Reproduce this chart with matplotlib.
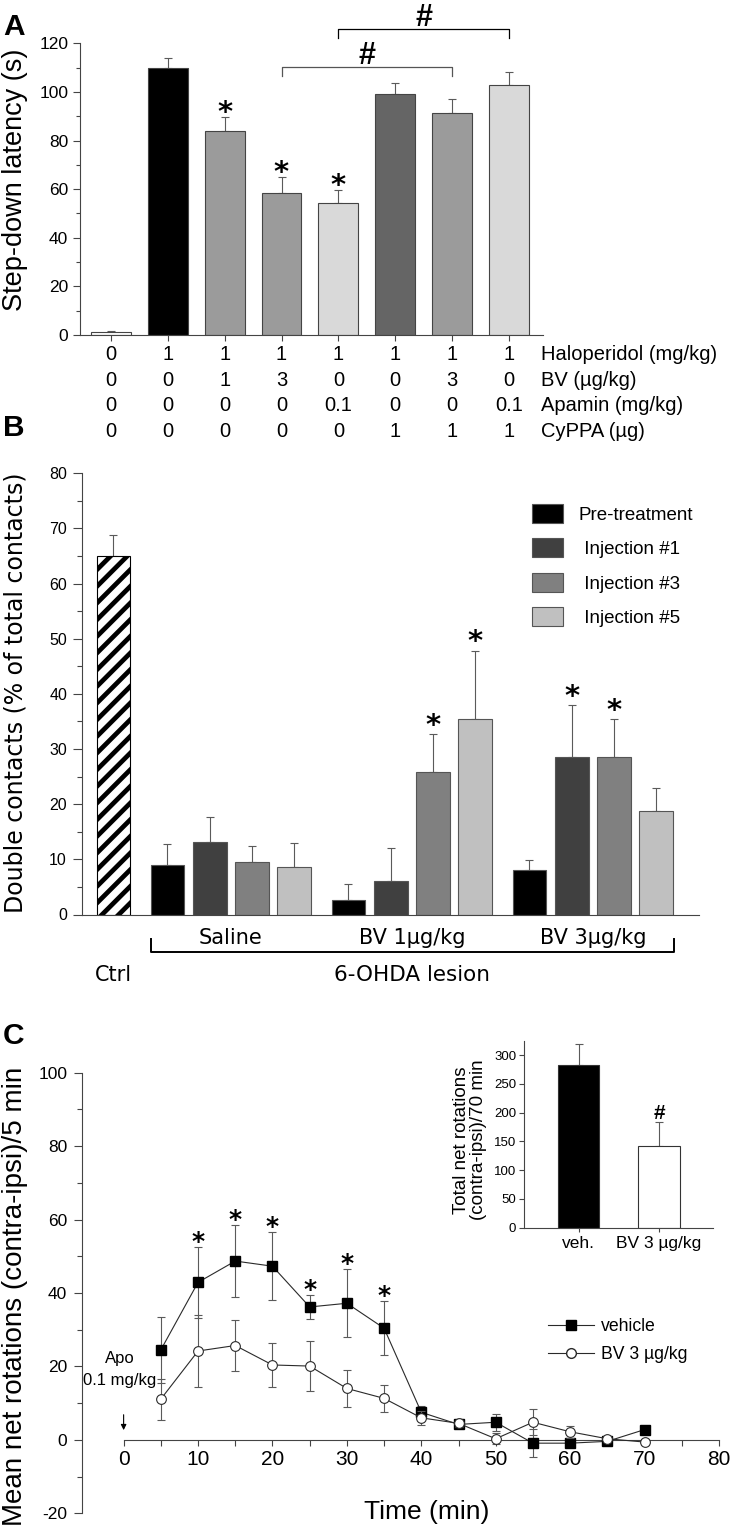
import numpy as np
import matplotlib
matplotlib.use("Agg")
import matplotlib.pyplot as plt
from matplotlib import transforms
from matplotlib.lines import Line2D

# ---------------- data ----------------
# Panel A: step-down latency
a_means = [1.1, 110.0, 84.0, 58.3, 54.3, 99.0, 91.2, 103.0]
a_errs = [0.5, 4.0, 5.8, 6.8, 5.3, 4.5, 5.8, 5.3]
a_colors = ["white", "black", "#9b9b9b", "#9b9b9b", "#d9d9d9", "#656565", "#9b9b9b", "#d9d9d9"]
a_row_names = ["Haloperidol (mg/kg)", "BV (µg/kg)", "Apamin (mg/kg)", "CyPPA (µg)"]
a_haloperidol = ["0", "1", "1", "1", "1", "1", "1", "1"]
a_bv = ["0", "0", "1", "3", "0", "0", "3", "0"]
a_apamin = ["0", "0", "0", "0", "0.1", "0", "0", "0.1"]
a_cyppa = ["0", "0", "0", "0", "0", "1", "1", "1"]
a_star_bars = [2, 3, 4]
a_hash_pairs = [(3, 6), (4, 7)]

# Panel B: double contacts
b_ctrl_mean = 65.0
b_ctrl_err = 3.8
b_groups = ["Saline", "BV 1µg/kg", "BV 3µg/kg"]
b_series = ["Pre-treatment", " Injection #1", " Injection #3", " Injection #5"]
b_colors = ["black", "#404040", "#808080", "#c0c0c0"]
b_saline = [9.0, 13.2, 9.5, 8.7]
b_saline_err = [3.7, 4.4, 2.9, 4.2]
b_bv1 = [2.7, 6.1, 25.9, 35.4]
b_bv1_err = [2.9, 6.0, 6.8, 12.4]
b_bv3 = [8.1, 28.6, 28.6, 18.7]
b_bv3_err = [1.7, 9.3, 6.8, 4.2]
b_stars = [(1, 2), (1, 3), (2, 1), (2, 2)]  # (group, series)

# Panel C: rotations time course
c_time = [5, 10, 15, 20, 25, 30, 35, 40, 45, 50, 55, 60, 65, 70]
c_vehicle = [24.5, 42.9, 48.7, 47.3, 36.2, 37.2, 30.4, 7.5, 4.2, 4.8, -0.9, -0.9, -0.4, 2.8]
c_vehicle_err = [9.0, 9.7, 9.9, 9.2, 3.2, 9.3, 7.3, 1.8, 0.8, 2.3, 3.9, 0.7, 0.8, 0.8]
c_bv = [11.1, 24.2, 25.7, 20.4, 20.1, 14.0, 11.3, 6.0, 4.5, 0.3, 4.8, 2.2, 0.3, -0.6]
c_bv_err = [5.6, 9.7, 7.0, 6.0, 6.8, 5.0, 3.7, 1.9, 1.0, 1.5, 3.6, 1.7, 0.8, 0.8]
c_star_times = [10, 15, 20, 25, 30, 35]

# Panel C inset: totals
i_labels = ["veh.", "BV 3 µg/kg"]
i_means = [283.0, 142.0]
i_errs = [36.0, 41.0]
i_colors = ["black", "white"]

# ---------------- style ----------------
W, H = 734, 1530
plt.rcParams["font.family"] = ["Liberation Sans", "DejaVu Sans"]
plt.rcParams["axes.unicode_minus"] = False
plt.rcParams["hatch.linewidth"] = 3.4
AXC = "#444444"
ERRC = "#5a5a5a"


def fx(px):
    return px / W


def fy(py):
    return 1 - py / H


def style_axes(ax, labelsize, major=5.5, minor=3.2, pad=4):
    for s in ["top", "right"]:
        ax.spines[s].set_visible(False)
    for s in ["left", "bottom"]:
        ax.spines[s].set_color(AXC)
        ax.spines[s].set_linewidth(0.8)
    ax.tick_params(which="both", direction="out", color=AXC, width=0.8, labelsize=labelsize, pad=pad)
    ax.tick_params(which="major", length=major)
    ax.tick_params(which="minor", length=minor)


def star(ax, x, y, size):
    ax.annotate("*", xy=(x, y), xytext=(0, -0.55 * size), textcoords="offset points",
                ha="center", va="baseline", fontsize=size, fontweight="bold",
                family="DejaVu Sans", annotation_clip=False)


def hash_mark(ax, x, y, size):
    ax.annotate("#", xy=(x, y), xytext=(0, -0.36 * size), textcoords="offset points",
                ha="center", va="baseline", fontsize=size, fontweight="bold",
                annotation_clip=False)


fig = plt.figure(figsize=(W / 100, H / 100), dpi=100)

# ================= Panel A =================
axA = fig.add_axes([fx(80), fy(335), fx(463), 291.7 / H])
xa = np.arange(len(a_means))
axA.bar(xa, a_means, width=0.7, color=a_colors, edgecolor="#444444", linewidth=0.8, zorder=2)
axA.errorbar(xa, a_means, yerr=[np.zeros(len(xa)), a_errs], fmt="none", ecolor=ERRC,
             elinewidth=0.8, capsize=3, capthick=0.8, zorder=1)
axA.set_xlim(-0.545, 7.6)
axA.set_ylim(0, 120)
axA.set_yticks(np.arange(0, 121, 20))
axA.set_yticks(np.arange(10, 120, 20), minor=True)
axA.set_xticks(xa)
axA.set_xticklabels([])
style_axes(axA, 12.5, major=5.3, minor=3, pad=3.2)
axA.tick_params(axis="x", length=4)

for b in a_star_bars:
    star(axA, b, a_means[b] + a_errs[b] + 5, 21)

# significance brackets
bracket_levels = [(110.4, 106.6, "#555555"), (125.9, 122.0, "black")]
for (b0, b1), (top, foot, col) in zip(a_hash_pairs, bracket_levels):
    axA.plot([b0, b0, b1, b1], [foot, top, top, foot], color=col, lw=0.9, clip_on=False)
    hash_mark(axA, (b0 + b1) / 2, top + 5.6, 22)

# treatment table under panel A
tabA = transforms.blended_transform_factory(axA.transData, fig.transFigure)
rows = [a_haloperidol, a_bv, a_apamin, a_cyppa]
row_base = [360, 386, 411, 437]
for vals, name, yb in zip(rows, a_row_names, row_base):
    for i, v in enumerate(vals):
        axA.text(i, fy(yb), v, transform=tabA, ha="center", va="baseline", fontsize=14.5)
    axA.text(7.57, fy(yb), name, transform=tabA, ha="left", va="baseline", fontsize=14.5)

fig.text(fx(15), fy(179.5), "Step-down latency (s)", rotation=90, ha="center", va="center",
         fontsize=19.5)

# ================= Panel B =================
axB = fig.add_axes([fx(82), fy(914.5), fx(617), 441.2 / H])
axB.bar([0], [b_ctrl_mean], width=0.79, color="white", edgecolor="black", hatch="//",
        linewidth=0.8, zorder=2)
axB.errorbar([0], [b_ctrl_mean], yerr=[[0], [b_ctrl_err]], fmt="none", ecolor=ERRC,
             elinewidth=0.8, capsize=3, capthick=0.8, zorder=1)
b_vals = [b_saline, b_bv1, b_bv3]
b_errv = [b_saline_err, b_bv1_err, b_bv3_err]
handles = []
for i, (lab, col) in enumerate(zip(b_series, b_colors)):
    xs = [1.28 + g * 4.28 + i for g in range(len(b_groups))]
    ys = [b_vals[g][i] for g in range(len(b_groups))]
    es = [b_errv[g][i] for g in range(len(b_groups))]
    h = axB.bar(xs, ys, width=0.8, color=col, edgecolor="#555555", linewidth=0.8, zorder=2,
                label=lab)
    axB.errorbar(xs, ys, yerr=[np.zeros(len(xs)), es], fmt="none", ecolor=ERRC,
                 elinewidth=0.8, capsize=3, capthick=0.8, zorder=1)
    handles.append(h)
for g, i in b_stars:
    star(axB, 1.28 + g * 4.28 + i, b_vals[g][i] + b_errv[g][i] + 3.0, 21)

axB.set_xlim(-0.74, 13.85)
axB.set_ylim(0, 80)
axB.set_yticks(np.arange(0, 81, 10))
axB.set_yticks(np.arange(5, 80, 10), minor=True)
style_axes(axB, 11.5, major=6.5, minor=3.5, pad=4.3)
axB.tick_params(axis="x", bottom=False, labelbottom=False)

axB.legend(handles=handles, labels=b_series, loc="upper left", frameon=False,
           bbox_to_anchor=(fx(531.7), fy(504)), bbox_transform=fig.transFigure,
           fontsize=13.5, handlelength=1.65, handleheight=1.17, labelspacing=0.78,
           handletextpad=0.85, borderpad=0, borderaxespad=0)

tabB = transforms.blended_transform_factory(axB.transData, fig.transFigure)
for g, name in enumerate(b_groups):
    axB.text(1.28 + g * 4.28 + 1.5, fy(944), name, transform=tabB, ha="center",
             va="baseline", fontsize=15, family="DejaVu Sans")
axB.plot([0.88, 0.88, 13.27, 13.27], [fy(939.4), fy(952.3), fy(952.3), fy(939.4)],
         transform=tabB, color="black", lw=1.4, clip_on=False)
axB.text(0, fy(981), "Ctrl", transform=tabB, ha="center", va="baseline", fontsize=15,
         family="DejaVu Sans")
axB.text(7.06, fy(981), "6-OHDA lesion", transform=tabB, ha="center", va="baseline",
         fontsize=15.5, family="DejaVu Sans")

fig.text(fx(16), fy(693), "Double contacts (% of total contacts)", rotation=90, ha="center",
         va="center", fontsize=17, family="DejaVu Sans")

# ================= Panel C =================
axC = fig.add_axes([fx(81.5), fy(1513.3), fx(637.5), 440.6 / H])
axC.errorbar(c_time, c_vehicle, yerr=c_vehicle_err, fmt="-s", color="#2a2a2a", lw=0.8,
             ms=6.5, mfc="black", mec="black", ecolor=ERRC, elinewidth=0.8, capsize=3,
             capthick=0.8, zorder=3)
axC.errorbar(c_time, c_bv, yerr=c_bv_err, fmt="-o", color="#2a2a2a", lw=0.8,
             ms=7, mfc="white", mec="#2a2a2a", mew=0.8, ecolor=ERRC, elinewidth=0.8,
             capsize=3, capthick=0.8, zorder=4)
for t in c_star_times:
    k = c_time.index(t)
    star(axC, t, c_vehicle[k] + c_vehicle_err[k] + 3.2, 18)

axC.set_xlim(-5.66, 80)
axC.set_ylim(-20, 100)
axC.spines["bottom"].set_position(("data", 0))
axC.spines["bottom"].set_bounds(0, 80)
axC.set_xticks(np.arange(0, 81, 10))
axC.set_xticks(np.arange(5, 80, 10), minor=True)
axC.set_yticks(np.arange(-20, 101, 20))
axC.set_yticks(np.arange(-10, 100, 20), minor=True)
style_axes(axC, 12.5, major=6, minor=3.5, pad=4.3)
axC.tick_params(axis="x", which="both", length=4, labelsize=15, pad=3)

leg_handles = [
    Line2D([], [], color="#2a2a2a", lw=0.8, marker="s", ms=6.5, mfc="black", mec="black"),
    Line2D([], [], color="#2a2a2a", lw=0.8, marker="o", ms=7, mfc="white", mec="#2a2a2a"),
]
axC.legend(leg_handles, ["vehicle", "BV 3 µg/kg"], loc="upper left", frameon=False,
           bbox_to_anchor=(fx(548), fy(1318)), bbox_transform=fig.transFigure,
           fontsize=12.7, handlelength=2.6, handletextpad=0.4, labelspacing=0.65,
           borderpad=0, borderaxespad=0)

axC.annotate("", xy=(0, 1.9), xytext=(0, 7.6),
             arrowprops=dict(arrowstyle="-|>", color="black", lw=0.8, mutation_scale=8))
axC.text(-0.5, 22.2, "Apo", ha="center", va="center", fontsize=12)
axC.text(-0.5, 16.1, "0.1 mg/kg", ha="center", va="center", fontsize=12)

fig.text(fx(15), fy(1296), "Mean net rotations (contra-ipsi)/5 min", rotation=90,
         ha="center", va="center", fontsize=20)
fig.text(fx(427), fy(1512), "Time (min)", ha="center", va="center", fontsize=19)

# inset
axI = fig.add_axes([fx(523.9), fy(1227.6), fx(189.4), 186.7 / H])
xi = np.arange(len(i_means))
axI.bar(xi, i_means, width=0.52, color=i_colors, edgecolor="#333333", linewidth=0.8, zorder=2)
axI.errorbar(xi, i_means, yerr=[np.zeros(len(xi)), i_errs], fmt="none", ecolor=ERRC,
             elinewidth=0.8, capsize=3, capthick=0.8, zorder=1)
hash_mark(axI, 1, 202.6, 15)
axI.set_xlim(-0.68, 1.675)
axI.set_ylim(0, 325)
axI.set_yticks(np.arange(0, 301, 50))
axI.set_xticks(xi)
axI.set_xticklabels(i_labels)
style_axes(axI, 9.5, major=3.5, minor=2, pad=2)
axI.tick_params(axis="x", labelsize=12.5, length=3, pad=3)
fig.text(fx(470), fy(1140), "Total net rotations\n(contra-ipsi)/70 min", rotation=90,
         ha="center", va="center", fontsize=13.5, linespacing=0.95)

# panel letters
for lab, yb in [("A", 35), ("B", 436.5), ("C", 1044)]:
    fig.text(fx(3), fy(yb), lab, ha="left", va="baseline", fontsize=21.5, fontweight="bold")

fig.savefig("out.png", dpi=100)
